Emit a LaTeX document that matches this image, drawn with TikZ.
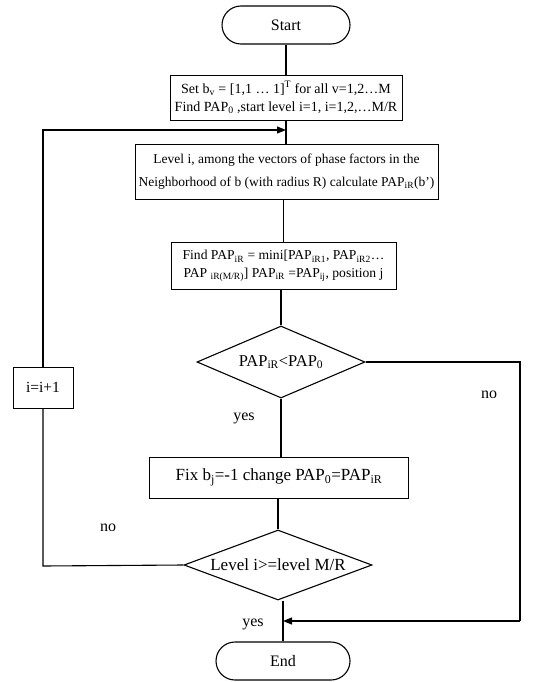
\documentclass[tikz,border=0pt]{standalone}
\usepackage{fontspec}
\setmainfont{Liberation Serif}
\usetikzlibrary{shapes.geometric,arrows.meta}
\newcommand{\lo}[1]{\textsubscript{#1}}
\newcommand{\hi}[1]{\textsuperscript{#1}}
\newcommand{\fs}[2]{\fontsize{#1}{#2}\selectfont}
\begin{document}
\begin{tikzpicture}[x=1pt,y=-1pt,
  every node/.style={font=\fs{14}{18}},
  proc/.style={draw,line width=0.9pt,inner sep=0pt,align=center},
  term/.style={draw,line width=1.1pt,rounded corners=19pt,inner sep=0pt,font=\fs{16}{18}},
  decision/.style={draw,diamond,line width=1.1pt,inner sep=0pt},
  inside/.style={inner sep=0pt,font=\fs{17}{20}},
  flow/.style={line width=1.1pt},
  tip/.style={-{Triangle[length=9pt,width=7pt]}},
  lbl/.style={inner sep=0pt,font=\fs{16}{18}}]
\useasboundingbox (0,0) rectangle (533,682);

% main column
\node[term,minimum width=128,minimum height=38] (start) at (286,25) {Start};
\node[proc,minimum width=232,minimum height=45,font=\fs{14}{18}] (init) at (286,97.5)
  {Set b\lo{v} = [1,1 \ldots{} 1]\hi{T} for all v=1,2\ldots M\\
   Find PAP\lo{0} ,start level i=1, i=1,2,\ldots M/R};
\node[proc,minimum width=303,minimum height=55,font=\fs{13.5}{23}] (level) at (286.5,172)
  {Level i, among the vectors of phase factors in the\\
   Neighborhood of b (with radius R) calculate PAP\lo{iR}(b')};
\node[proc,minimum width=225,minimum height=47,font=\fs{13.6}{17.5}] (mini) at (283.5,266)
  {Find PAP\lo{iR} = mini[PAP\lo{iR1}, PAP\lo{iR2}\ldots\\
   PAP \lo{iR(M/R)}] PAP\lo{iR} =PAP\lo{ij}, position j};
\node[decision,minimum width=168,minimum height=72] (cmp) at (281,362) {};
\node[inside,font=\fs{16.5}{20}] (cmptext) at (cmp) {PAP\lo{iR}<PAP\lo{0}};
\node[proc,minimum width=259,minimum height=41,font=\fs{17}{20}] (fix) at (279,477.5)
  {Fix b\lo{j}=-1 change PAP\lo{0}=PAP\lo{iR}};
\node[decision,minimum width=188,minimum height=70] (lvl) at (278,565) {};
\node[inside] (lvltext) at (lvl) {Level i>=level M/R};
\node[term,minimum width=134,minimum height=38] (end) at (283,661) {End};

% loop counter
\node[proc,minimum width=60,minimum height=41,fill=white,font=\fs{15.5}{18}] (inc) at (43,387.5) {i=i+1};

% turning points of the two loops
\coordinate (ll) at (43,566);
\coordinate (lt) at (43,130);
\coordinate (rt) at (520,362);
\coordinate (rb) at (520,621);

% straight flow
\draw[flow] (start.south) -- (start.south |- init.north);
\draw[flow] (init.south) -- (init.south |- level.north);
\draw[flow] (level.south -| mini.north) -- (mini.north);
\draw[flow] (mini.south -| cmp.north) -- (cmp.north);
\draw[flow] (cmp.south) -- (cmp.south |- fix.north);
\draw[flow] (fix.south -| lvl.north) -- (lvl.north);
\draw[flow] (lvl.south -| end.north) -- (end.north);

% "no" branch of the level test: back to the top
\draw[flow] (lvl.west) -- (ll) -- (inc.south);
\draw[flow,tip] (inc.north) -- (lt) -- (lt -| init.south);

% "no" branch of the comparison: straight to the end
\draw[flow] (cmp.east) -- (rt) -- (rb);
\draw[flow,tip] (rb) -- (rb -| end.north);

% branch labels
\node[lbl] (nocmp) at (489,395) {no};
\node[lbl] (yescmp) at (244,418) {yes};
\node[lbl] (nolvl) at (108,528) {no};
\node[lbl] (yeslvl) at (253,624) {yes};
\end{tikzpicture}
\end{document}
